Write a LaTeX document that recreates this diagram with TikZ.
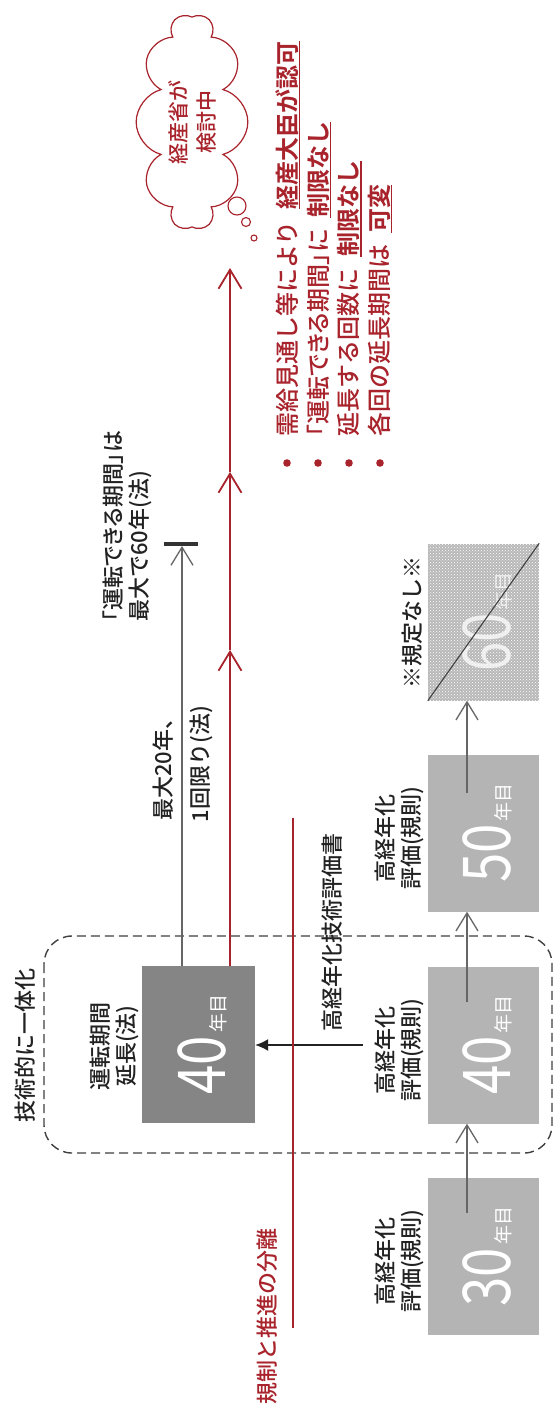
\documentclass[tikz,border=0pt]{standalone}
\usepackage{fontspec}
\IfFontExistsTF{Noto Sans CJK JP Medium}
  {\setmainfont{Noto Sans CJK JP Medium}[BoldFont={Noto Sans CJK JP Bold}]}
  {\setmainfont{Noto Sans CJK JP}}
\newfontfamily\numfont{Noto Sans CJK JP}
\usepackage{graphicx}
\usetikzlibrary{arrows.meta,shapes.symbols,patterns}

\definecolor{myred}{HTML}{A8232B}
\definecolor{boxlight}{HTML}{B4B4B4}
\definecolor{boxdark}{HTML}{858585}
\definecolor{boxdot}{HTML}{B8B8B8}
\definecolor{linegray}{HTML}{666666}
\definecolor{txt}{HTML}{222222}

\newcommand{\yrnum}[1]{\numfont\scalebox{0.8}[1]{\fontsize{66}{66}\selectfont #1}\hspace{3pt}{\fontsize{19}{19}\selectfont 年目}}
\newcommand{\ulb}[1]{\setbox0\hbox{\bfseries #1}\rlap{\rule[-4pt]{\wd0}{1.5pt}}\box0}
\newcommand{\prop}[1]{{\addfontfeature{RawFeature=+palt}#1}}

\tikzset{
  lbl/.style={rotate=90, font=\fontsize{22}{26}\selectfont, text=txt, inner sep=0pt, align=center},
  yearbox/.style={minimum width=111pt, minimum height=157pt, inner sep=0pt, draw=none},
  yeartext/.style={rotate=90, anchor=base, inner sep=0pt, text=white},
  ga/.style={draw=linegray, line width=1.3pt, -{Straight Barb[length=18pt,width=22pt]}},
  ra/.style={draw=myred, line width=1.8pt, -{Straight Barb[length=19pt,width=23pt]}},
}

\begin{document}
\begin{tikzpicture}[x=1pt,y=-1pt]
\fill[white] (0,0) rectangle (554,1413);
\useasboundingbox (0,0) rectangle (554,1413);

% dashed grouping
\draw[draw=black!75, line width=1.4pt, dash pattern=on 9pt off 5pt, rounded corners=28pt] (44,936) rectangle (552,1153);

% boxes
\node[yearbox, fill=boxdark, minimum width=113pt] (d40) at (198.5,1044.5) {};
\node[yearbox, fill=boxlight] (r30) at (483.5,1256.5) {};
\node[yearbox, fill=boxlight] (r40) at (483.5,1045) {};
\node[yearbox, fill=boxlight] (r50) at (483.5,833) {};
\node[yearbox, fill=boxdot, postaction={pattern=crosshatch dots, pattern color=white}] (r60) at (483.5,622) {};

\node[yeartext] (n40d) at (225,1044.5) {\yrnum{40}};
\node[yeartext] (n30) at (510,1256.5) {\yrnum{30}};
\node[yeartext] (n40) at (510,1045) {\yrnum{40}};
\node[yeartext] (n50) at (510,833) {\yrnum{50}};
\node[yeartext, opacity=0.75] (n60) at (510,622) {\yrnum{60}};
\draw[black!75, line width=1.1pt] (r60.south west) -- (r60.north east);

% right column arrows
\coordinate (s30) at (467,1213);
\coordinate (s40) at (467,1002);
\coordinate (s50) at (467,793);
\draw[ga] (s30) -- (s30 |- r40.south);
\draw[ga] (s40) -- (s40 |- r50.south);
\draw[ga] (s50) -- (s50 |- r60.south);

% gray line from left box with stop bar
\coordinate (gs) at (182,966);
\coordinate (gt) at (182,546);
\coordinate (b1) at (164,544);
\coordinate (b2) at (198,544);
\draw[ga] (gs) -- (gt);
\draw[black!80, line width=3.5pt] (b1) -- (b2);

% red arrow line
\coordinate (rs) at (230,966);
\coordinate (m1) at (230,650);
\coordinate (m2) at (230,472);
\coordinate (rt) at (230,268);
\draw[ra] (rs) -- (m1);
\draw[ra] (m1) -- (m2);
\draw[ra] (m2) -- (rt);

% black arrow
\coordinate (bs) at (363,1045);
\draw[txt, line width=1.4pt, -{Latex[length=13pt,width=12pt]}] (bs) -- (bs -| d40.east);

% red thin separator
\coordinate (sep1) at (293,818);
\coordinate (sep2) at (293,1328);
\draw[myred, line width=1.5pt] (sep1) -- (sep2);

% labels
\node[lbl] (lgrp) at (25,1045) {技術的に一体化};
\node[lbl] (lext) at (114,1046) {運転期間\\延長(法)};
\node[lbl] (ltech) at (332,932) {高経年化技術評価書};
\node[lbl, font=\fontsize{22}{37}\selectfont] (lmax) at (182.5,764) {最大20年、\\1回限り(法)};
\node[lbl, align=left, anchor=west] (l60) at (127,622) {\prop{「運転できる期間」は}\\最大で60年(法)};
\node[lbl] (la30) at (399,1261) {高経年化\\評価(規則)};
\node[lbl] (la40) at (399,1050) {高経年化\\評価(規則)};
\node[lbl] (la50) at (399,838) {高経年化\\評価(規則)};
\node[lbl] (lnone) at (412,622) {※規定なし※};
\node[lbl, text=myred] (lsep) at (267,1316) {規制と推進の分離};

% bullet list
\node[lbl, text=myred, align=left, anchor=west, font=\fontsize{24}{30.7}\selectfont] (blist) at (334,437)
  {需給見通し等により\hspace{0.5em}\ulb{経産大臣が認可}\\\prop{「運転できる期間」に}\hspace{0.5em}\ulb{制限なし}\\延長する回数に\hspace{0.5em}\ulb{制限なし}\\各回の延長期間は\hspace{0.5em}\ulb{可変}};
\foreach \bx in {287,318,349,380} \fill[myred] (\bx,463) circle (3.8pt);

% cloud
\node[cloud, cloud puffs=10, aspect=2.1, draw=myred, line width=1.2pt, rotate=90,
      minimum width=215pt, minimum height=100pt, text=myred, align=center,
      font=\fontsize{21}{28}\selectfont] (cloud) at (192,122) {経産省が\\検討中};
\draw[myred, line width=1.1pt] (237,206) circle (9pt);
\draw[myred, line width=1.1pt] (246,222) circle (4.5pt);
\draw[myred, line width=1.1pt] (254,238) circle (3pt);
\end{tikzpicture}
\end{document}
